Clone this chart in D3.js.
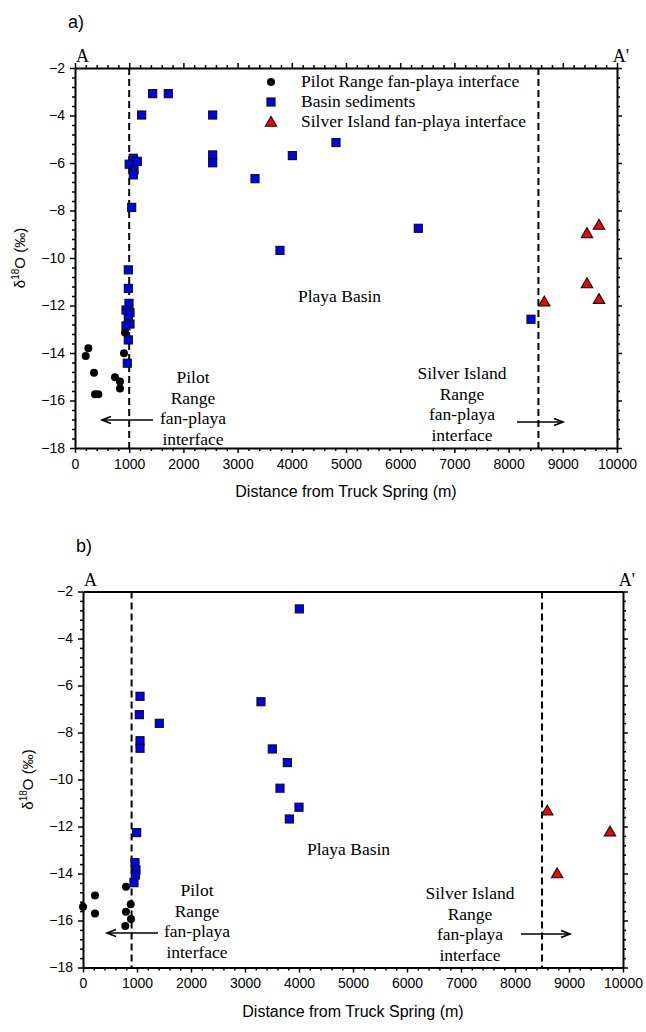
<!DOCTYPE html>
<html><head><meta charset="utf-8">
<script src="https://cdn.jsdelivr.net/npm/d3@7"></script>
<style>body{margin:0;background:#fff}svg{display:block}</style>
</head><body>
<script>
// ---- data ----
const xTicks = [0,1000,2000,3000,4000,5000,6000,7000,8000,9000,10000];
const yTicks = [-2,-4,-6,-8,-10,-12,-14,-16,-18];
const seriesNames = ["Pilot Range fan-playa interface","Basin sediments","Silver Island fan-playa interface"];

const aPilotX = [246,197,351,369,430,922,904,738,830,830];
const aPilotY = [-13.8,-14.13,-14.83,-15.74,-15.74,-13.14,-14.01,-15.02,-15.2,-15.49];
const aBasinX = [1433,1722,1230,2540,4815,4010,2540,2540,3321,1076,1150,1000,1089,1076,1046,3782,984,984,996,941,1015,984,1015,941,984,965,6334,8413];
const aBasinY = [-3.08,-3.08,-3.98,-3.98,-5.14,-5.69,-5.66,-5.99,-6.66,-5.80,-5.93,-6.05,-6.3,-6.5,-7.87,-9.68,-10.5,-11.28,-11.91,-12.19,-12.3,-12.54,-12.78,-12.86,-13.45,-14.43,-8.75,-12.58];
const aSilverX = [9668,9446,9446,9668,8659];
const aSilverY = [-8.61,-8.96,-11.07,-11.73,-11.84];
const aDashed = [1000,8550];

const bPilotX = [796,222,0,222,883,796,889,783];
const bPilotY = [-14.56,-14.94,-15.41,-15.70,-15.31,-15.63,-15.94,-16.23];
const bBasinX = [4006,1056,3296,1043,1413,1056,1056,3506,3784,3648,4000,3821,994,963,981,969,944];
const bBasinY = [-2.74,-6.46,-6.69,-7.24,-7.61,-8.35,-8.67,-8.70,-9.28,-10.37,-11.18,-11.68,-12.26,-13.54,-13.85,-14.06,-14.39];
const bSilverX = [8598,9759,8780];
const bSilverY = [-11.33,-12.22,-14.0];
const bDashed = [900,8500];

const W = 646, H = 1032;
const svg = d3.select("body").append("svg").attr("width",W).attr("height",H);
const sans = "Liberation Sans, Arial, sans-serif";
const serif = "Liberation Serif, Times New Roman, serif";

function zip(xs,ys){return xs.map((x,i)=>({x:x,y:ys[i]}));}

function panel(cfg){
  const g = svg.append("g");
  const x = d3.scaleLinear().domain([0,10000]).range([cfg.left,cfg.right]);
  const y = d3.scaleLinear().domain([-18,-2]).range([cfg.bottom,cfg.top]);
  const minorX = d3.range(0,10001,200).filter(v=>v%1000!==0);
  const minorY = d3.range(-18,-1.99,0.4).map(v=>+v.toFixed(1)).filter(v=>Math.abs(v%2)>0.01);

  function styleAxis(sel){sel.selectAll("path.domain").attr("stroke","#000").attr("stroke-width",2);
    sel.selectAll(".tick line").attr("stroke","#000").attr("stroke-width",1.5);}
  // bottom
  const bx = g.append("g").attr("transform",`translate(0,${cfg.bottom})`)
    .call(d3.axisBottom(x).tickValues(xTicks).tickSize(5).tickSizeOuter(0).tickPadding(6).tickFormat(d3.format("d")));
  bx.selectAll("text").attr("font-family",sans).attr("font-size",14).attr("fill","#000");
  styleAxis(bx);
  g.append("g").attr("transform",`translate(0,${cfg.bottom})`)
    .call(d3.axisBottom(x).tickValues(minorX).tickSize(3).tickFormat("")).call(s=>{s.select(".domain").remove();styleAxis(s);});
  // top
  const tx = g.append("g").attr("transform",`translate(0,${cfg.top})`)
    .call(d3.axisTop(x).tickValues(cfg.topTicks?xTicks:[]).tickSize(5).tickSizeOuter(0).tickFormat(""));
  styleAxis(tx);
  if(cfg.topTicks){
    g.append("g").attr("transform",`translate(0,${cfg.top})`)
      .call(d3.axisTop(x).tickValues(minorX).tickSize(3).tickFormat("")).call(s=>{s.select(".domain").remove();styleAxis(s);});
  }
  // left
  const ly = g.append("g").attr("transform",`translate(${cfg.left},0)`)
    .call(d3.axisLeft(y).tickValues(yTicks).tickSize(5).tickSizeOuter(0).tickPadding(5).tickFormat(d3.format("d")));
  ly.selectAll("text").attr("font-family",sans).attr("font-size",14).attr("fill","#000");
  styleAxis(ly);
  g.append("g").attr("transform",`translate(${cfg.left},0)`)
    .call(d3.axisLeft(y).tickValues(minorY).tickSize(3).tickFormat("")).call(s=>{s.select(".domain").remove();styleAxis(s);});
  // right
  const ry = g.append("g").attr("transform",`translate(${cfg.right},0)`)
    .call(d3.axisRight(y).tickValues(yTicks).tickSize(5).tickSizeOuter(0).tickFormat(""));
  styleAxis(ry);
  g.append("g").attr("transform",`translate(${cfg.right},0)`)
    .call(d3.axisRight(y).tickValues(minorY).tickSize(3).tickFormat("")).call(s=>{s.select(".domain").remove();styleAxis(s);});

  // dashed lines
  g.selectAll("line.dash").data(cfg.dashed).enter().append("line")
    .attr("x1",d=>x(d)).attr("x2",d=>x(d)).attr("y1",cfg.top).attr("y2",cfg.bottom)
    .attr("stroke","#000").attr("stroke-width",2).attr("stroke-dasharray","7,4");

  // titles
  g.append("text").attr("x",(cfg.left+cfg.right)/2).attr("y",cfg.bottom+49).attr("text-anchor","middle")
    .attr("font-family",sans).attr("font-size",16).text("Distance from Truck Spring (m)");
  const yl = g.append("text").attr("transform",`translate(${cfg.left-50},${(cfg.top+cfg.bottom)/2}) rotate(-90)`)
    .attr("text-anchor","middle").attr("font-family",sans).attr("font-size",15);
  yl.append("tspan").text("δ");
  yl.append("tspan").attr("font-size",10).attr("dy",-6).text("18");
  yl.append("tspan").attr("dy",6).text("O (‰)");
  g.append("text").attr("x",cfg.left-7).attr("y",cfg.top-40).attr("font-family",sans).attr("font-size",18).text(cfg.label);
  g.append("text").attr("x",cfg.left+1).attr("y",cfg.top-6).attr("font-family",serif).attr("font-size",18).text("A");
  g.append("text").attr("x",cfg.right+12).attr("y",cfg.top-6).attr("text-anchor","end").attr("font-family",serif).attr("font-size",18).text("A'");

  // annotations
  const ann = (lines,cx,y0)=>{lines.forEach((t,i)=>g.append("text").attr("x",cx).attr("y",y0+i*20.5)
      .attr("text-anchor","middle").attr("font-family",serif).attr("font-size",17.5).text(t));};
  ann(["Pilot","Range","fan-playa","interface"],cfg.pilotCx,cfg.pilotY0);
  ann(["Silver Island","Range","fan-playa","interface"],cfg.silverCx,cfg.silverY0);
  g.append("text").attr("x",cfg.playaX).attr("y",cfg.playaY).attr("font-family",serif).attr("font-size",17.5).text("Playa Basin");
  const arrow=(x1,x2,yy)=>{
    g.append("line").attr("x1",x1).attr("x2",x2).attr("y1",yy).attr("y2",yy).attr("stroke","#000").attr("stroke-width",1.6);
    const s = x2>x1?-1:1;
    g.append("path").attr("d",`M${x2+s*9},${yy-3.5}L${x2},${yy}L${x2+s*9},${yy+3.5}`).attr("fill","none").attr("stroke","#000").attr("stroke-width",1.6);
  };
  arrow(cfg.arrowL[0],cfg.arrowL[1],cfg.arrowL[2]);
  arrow(cfg.arrowR[0],cfg.arrowR[1],cfg.arrowR[2]);

  // points
  const tri = d3.symbol().type(d3.symbolTriangle).size(55);
  g.selectAll("rect.basin").data(zip(cfg.basinX,cfg.basinY)).enter().append("rect")
    .attr("x",d=>x(d.x)-4).attr("y",d=>y(d.y)-4).attr("width",8).attr("height",8)
    .attr("fill","#0000ff").attr("stroke","#111").attr("stroke-width",1.2);
  g.selectAll("circle.pilot").data(zip(cfg.pilotX,cfg.pilotY)).enter().append("circle")
    .attr("cx",d=>x(d.x)).attr("cy",d=>y(d.y)).attr("r",4).attr("fill","#000");
  g.selectAll("path.silver").data(zip(cfg.silverX,cfg.silverY)).enter().append("path")
    .attr("d",tri).attr("transform",d=>`translate(${x(d.x)},${y(d.y)+1})`)
    .attr("fill","#ff0000").attr("stroke","#111").attr("stroke-width",1.2);

  if(cfg.legend){
    const lx = cfg.legend[0], ly0 = cfg.legend[1];
    seriesNames.forEach((n,i)=>{
      const yy = ly0+i*20;
      if(i===0) g.append("circle").attr("cx",lx).attr("cy",yy).attr("r",4).attr("fill","#000");
      if(i===1) g.append("rect").attr("x",lx-4).attr("y",yy-4).attr("width",8).attr("height",8).attr("fill","#0000ff").attr("stroke","#111").attr("stroke-width",1.2);
      if(i===2) g.append("path").attr("d",tri).attr("transform",`translate(${lx},${yy+1})`).attr("fill","#ff0000").attr("stroke","#111").attr("stroke-width",1.2);
      g.append("text").attr("x",lx+30).attr("y",yy+5).attr("font-family",serif).attr("font-size",17.5).text(n);
    });
  }
}

panel({label:"a)",left:75,right:617,top:68,bottom:448,topTicks:true,dashed:aDashed,
  pilotX:aPilotX,pilotY:aPilotY,basinX:aBasinX,basinY:aBasinY,silverX:aSilverX,silverY:aSilverY,
  pilotCx:193,pilotY0:383,silverCx:462,silverY0:379,playaX:298,playaY:302,
  arrowL:[153,102,420],arrowR:[517,563,422],legend:[271,82]});
panel({label:"b)",left:83,right:623,top:591.5,bottom:967.5,topTicks:false,dashed:bDashed,
  pilotX:bPilotX,pilotY:bPilotY,basinX:bBasinX,basinY:bBasinY,silverX:bSilverX,silverY:bSilverY,
  pilotCx:197,pilotY0:896,silverCx:470,silverY0:899,playaX:307,playaY:855,
  arrowL:[158,107,933],arrowR:[521,570,934],legend:null});
</script>
</body></html>
